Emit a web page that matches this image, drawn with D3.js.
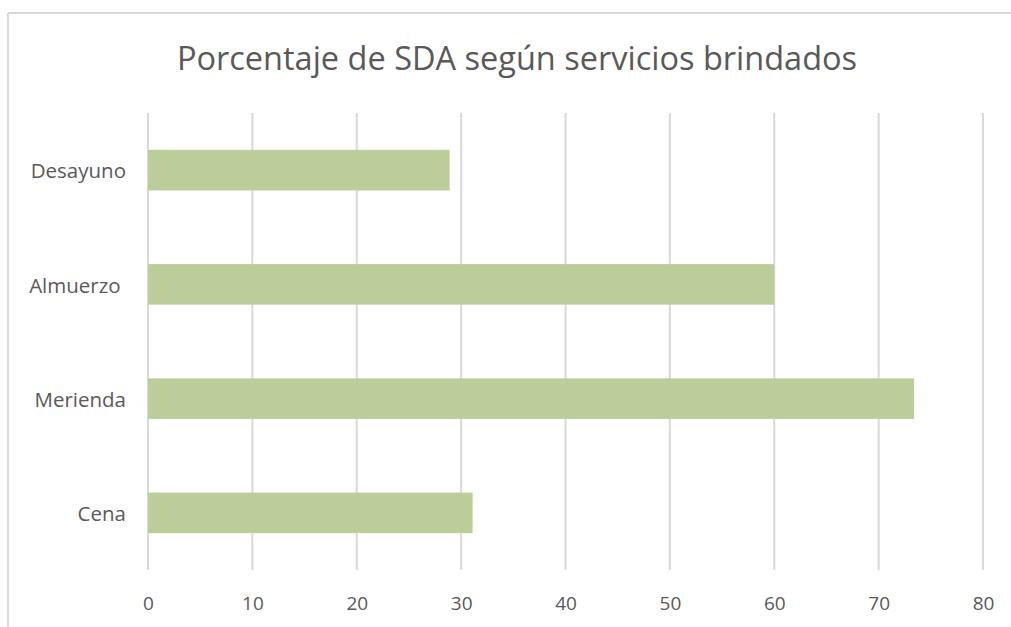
<!DOCTYPE html>
<html>
<head>
<meta charset="utf-8">
<script src="https://cdn.jsdelivr.net/npm/d3@7"></script>
<style>
  body { margin: 0; background: #fff; }
  svg { display: block; }
  svg text { font-family: "Open Sans", sans-serif; white-space: pre; }
</style>
</head>
<body>
<div id="chart"></div>
<script>
// datos del gráfico
const categories = ["Desayuno", "Almuerzo ", "Merienda", "Cena"]
const values = [28.9, 60, 73.4, 31.1]
const xTicks = [0, 10, 20, 30, 40, 50, 60, 70, 80]
const title = "Porcentaje de SDA según servicios brindados"

const width = 1011, height = 627
const margin = {top: 113, right: 28, bottom: 55, left: 148}

const svg = d3.select("#chart").append("svg")
  .attr("width", width)
  .attr("height", height)

// borde del area del grafico (solo arriba e izquierda visibles)
svg.append("line").attr("x1", 8).attr("x2", width).attr("y1", 13).attr("y2", 13)
  .attr("stroke", "#d9d9d9").attr("stroke-width", 2)
svg.append("line").attr("x1", 8).attr("x2", 8).attr("y1", 13).attr("y2", height)
  .attr("stroke", "#d9d9d9").attr("stroke-width", 2)

const x = d3.scaleLinear()
  .domain([0, 80])
  .range([margin.left, width - margin.right])

const y = d3.scaleBand()
  .domain(categories)
  .range([margin.top, height - margin.bottom - 2])
  .paddingInner(0.645)
  .paddingOuter(0.3225)

// lineas de cuadricula
svg.append("g")
  .selectAll("line")
  .data(xTicks)
  .join("line")
  .attr("x1", d => x(d)).attr("x2", d => x(d))
  .attr("y1", margin.top).attr("y2", height - margin.bottom - 2)
  .attr("stroke", "#d9d9d9")
  .attr("stroke-width", 2)

// barras
svg.append("g")
  .selectAll("rect")
  .data(values)
  .join("rect")
  .attr("x", x(0))
  .attr("y", (d, i) => y(categories[i]))
  .attr("width", d => x(d) - x(0))
  .attr("height", y.bandwidth())
  .attr("fill", "#bbce99")

// eje x
const xAxis = svg.append("g")
  .attr("transform", `translate(0,${height - margin.bottom - 2})`)
  .call(d3.axisBottom(x).tickValues(xTicks).tickSize(0).tickPadding(27))
xAxis.attr("font-family", null)
xAxis.select(".domain").remove()
xAxis.selectAll("text")
  .attr("fill", "#595959")
  .style("font-size", "19px")

// eje y
const yAxis = svg.append("g")
  .attr("transform", `translate(${margin.left},0)`)
  .call(d3.axisLeft(y).tickSize(0).tickPadding(22))
yAxis.attr("font-family", null)
yAxis.select(".domain").remove()
yAxis.selectAll("text")
  .attr("fill", "#595959")
  .attr("dy", "0.4em")
  .style("font-size", "20.5px")

// titulo
svg.append("text")
  .attr("x", 517)
  .attr("y", 70)
  .attr("text-anchor", "middle")
  .attr("fill", "#595959")
  .style("font-size", "32.5px")
  .text(title)
</script>
</body>
</html>
